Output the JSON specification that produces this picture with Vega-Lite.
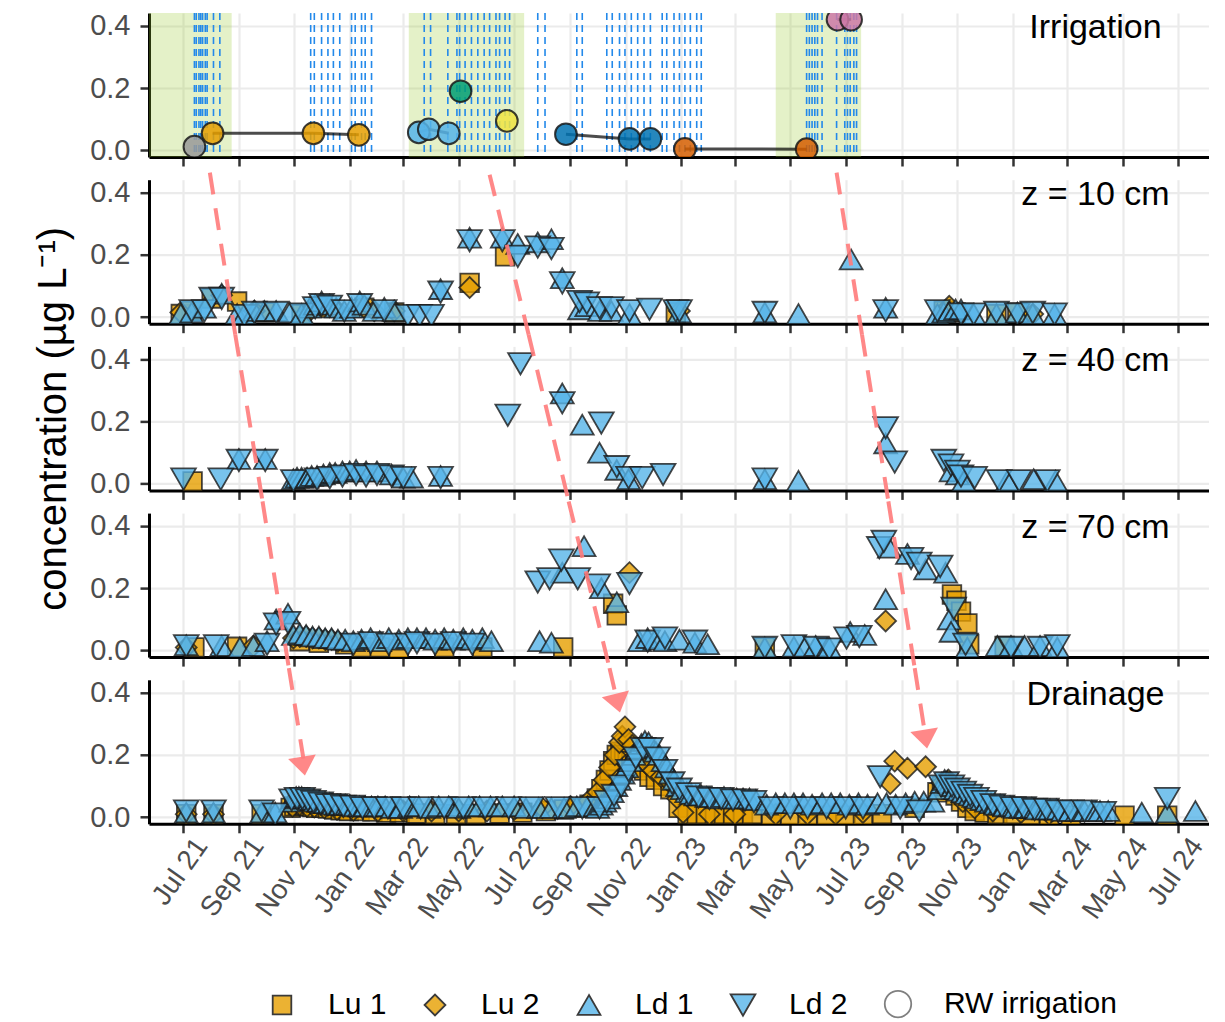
{
"$schema": "https://vega.github.io/schema/vega-lite/v6.json",
"padding": {"left": 33, "top": 10, "right": 0, "bottom": 0},
"bounds": "flush",
"spacing": 22.7,
"config": {
  "font": "Liberation Sans",
  "view": {"stroke": null},
  "axis": {"gridColor": "#ebebeb", "gridWidth": 2.2, "domainColor": "#000000", "domainWidth": 3, "tickColor": "#333333", "tickWidth": 2.5, "tickSize": 9, "labelColor": "#4d4d4d", "labelFontSize": 29, "labelPadding": 10, "labelOverlap": false, "labelFlush": false, "titleFontWeight": "normal", "titleColor": "#000000", "zindex": 1},
  "text": {"font": "Liberation Sans"}
},
"resolve": {"scale": {"x": "shared", "y": "shared", "color": "shared", "shape": "shared", "size": "shared"}, "legend": {"color": "shared", "shape": "shared"}},
"datasets": {
"green": [{"d1":"2021-05-01","d2":"2021-08-24"},{"d1":"2022-03-07","d2":"2022-07-12"},{"d1":"2023-04-15","d2":"2023-07-18"}],
"ev": [{"d":"2021-07-14"},{"d":"2021-07-16"},{"d":"2021-07-19"},{"d":"2021-07-21"},{"d":"2021-07-23"},{"d":"2021-07-26"},{"d":"2021-07-28"},{"d":"2021-08-04"},{"d":"2021-08-11"},
{"d":"2021-11-19"},{"d":"2021-11-23"},{"d":"2021-12-01"},{"d":"2021-12-08"},{"d":"2021-12-14"},{"d":"2021-12-21"},{"d":"2022-01-03"},{"d":"2022-01-07"},{"d":"2022-01-14"},{"d":"2022-01-18"},{"d":"2022-01-25"},
{"d":"2022-03-24"},{"d":"2022-03-31"},{"d":"2022-04-19"},{"d":"2022-04-29"},{"d":"2022-05-02"},{"d":"2022-05-08"},{"d":"2022-05-15"},{"d":"2022-05-22"},{"d":"2022-05-29"},{"d":"2022-06-04"},{"d":"2022-06-11"},{"d":"2022-06-15"},{"d":"2022-06-21"},{"d":"2022-06-26"},
{"d":"2022-07-27"},{"d":"2022-08-04"},{"d":"2022-09-08"},{"d":"2022-09-14"},{"d":"2022-10-11"},{"d":"2022-10-17"},{"d":"2022-10-25"},{"d":"2022-10-31"},{"d":"2022-11-07"},{"d":"2022-11-14"},{"d":"2022-11-21"},{"d":"2022-11-28"},{"d":"2022-12-11"},{"d":"2022-12-16"},{"d":"2022-12-24"},{"d":"2022-12-30"},{"d":"2023-01-05"},{"d":"2023-01-11"},{"d":"2023-01-18"},{"d":"2023-01-23"},
{"d":"2023-05-19"},{"d":"2023-05-22"},{"d":"2023-05-25"},{"d":"2023-05-28"},{"d":"2023-05-31"},{"d":"2023-06-05"},{"d":"2023-06-21"},{"d":"2023-06-30"},{"d":"2023-07-03"},{"d":"2023-07-06"},{"d":"2023-07-10"},{"d":"2023-07-13"}],
"irr": [{"d":"2021-07-14","v":0.012,"b":"B0"},
{"d":"2021-08-03","v":0.055,"b":"B1"},{"d":"2021-11-22","v":0.055,"b":"B1"},{"d":"2022-01-11","v":0.05,"b":"B1"},
{"d":"2022-03-18","v":0.058,"b":"B2"},{"d":"2022-03-29","v":0.068,"b":"B2"},{"d":"2022-04-20","v":0.055,"b":"B2"},
{"d":"2022-05-03","v":0.19,"b":"B3"},
{"d":"2022-06-23","v":0.095,"b":"B4"},
{"d":"2022-08-27","v":0.052,"b":"B5"},{"d":"2022-11-05","v":0.037,"b":"B5"},{"d":"2022-11-28","v":0.037,"b":"B5"},
{"d":"2023-01-05","v":0.005,"b":"B6"},{"d":"2023-05-19","v":0.004,"b":"B6"},
{"d":"2023-06-22","v":0.42,"b":"B7"},{"d":"2023-07-07","v":0.42,"b":"B7"}],
"arr": [
{"p":"10","d1":"2021-07-31","d2":"2021-08-28","v1":0.4636,"v2":-0.0563},
{"p":"40","d1":"2021-08-28","d2":"2021-09-27","v1":0.4785,"v2":-0.0563},
{"p":"70","d1":"2021-09-27","d2":"2021-10-26","v1":0.4785,"v2":-0.0563},
{"p":"D","d1":"2021-10-26","d2":"2021-11-11","v1":0.4785,"v2":0.188},
{"p":"10","d1":"2022-06-04","d2":"2022-07-17","v1":0.457,"v2":-0.0563},
{"p":"40","d1":"2022-07-17","d2":"2022-08-30","v1":0.4785,"v2":-0.0563},
{"p":"70","d1":"2022-08-30","d2":"2022-10-14","v1":0.4785,"v2":-0.0563},
{"p":"D","d1":"2022-10-14","d2":"2022-10-21","v1":0.4785,"v2":0.39},
{"p":"10","d1":"2023-06-21","d2":"2023-07-19","v1":0.4636,"v2":-0.0563},
{"p":"40","d1":"2023-07-19","d2":"2023-08-17","v1":0.4785,"v2":-0.0563},
{"p":"70","d1":"2023-08-17","d2":"2023-09-15","v1":0.4785,"v2":-0.0563},
{"p":"D","d1":"2023-09-15","d2":"2023-09-26","v1":0.4785,"v2":0.2746}],
"hd": [{"d":"2021-11-11","v":0.164,"a":351},{"d":"2022-10-23","v":0.366,"a":346},{"d":"2023-09-27","v":0.2506,"a":351}],
"obs": [
{"p":"10","d":"2021-06-29","s":"Lu 1","v":0.01},{"p":"10","d":"2021-07-11","s":"Lu 1","v":0.02},{"p":"10","d":"2021-08-02","s":"Lu 1","v":0.06},{"p":"10","d":"2021-08-30","s":"Lu 1","v":0.05},{"p":"10","d":"2021-09-29","s":"Lu 1","v":0.015},{"p":"10","d":"2021-11-09","s":"Lu 1","v":0.01},{"p":"10","d":"2021-12-01","s":"Lu 1","v":0.03},{"p":"10","d":"2022-01-17","s":"Lu 1","v":0.03},{"p":"10","d":"2022-02-19","s":"Lu 1","v":0.015},{"p":"10","d":"2022-05-13","s":"Lu 1","v":0.11},{"p":"10","d":"2022-06-21","s":"Lu 1","v":0.195},{"p":"10","d":"2022-12-26","s":"Lu 1","v":0.015},{"p":"10","d":"2023-10-17","s":"Lu 1","v":0.02},{"p":"10","d":"2023-10-30","s":"Lu 1","v":0.015},{"p":"10","d":"2023-12-14","s":"Lu 1","v":0.01},{"p":"10","d":"2024-01-06","s":"Lu 1","v":0.015},
{"p":"10","d":"2021-06-29","s":"Lu 2","v":0.015},{"p":"10","d":"2021-08-13","s":"Lu 2","v":0.07},{"p":"10","d":"2021-09-18","s":"Lu 2","v":0.02},{"p":"10","d":"2021-11-18","s":"Lu 2","v":0.02},{"p":"10","d":"2021-12-17","s":"Lu 2","v":0.025},{"p":"10","d":"2022-01-28","s":"Lu 2","v":0.02},{"p":"10","d":"2022-02-19","s":"Lu 2","v":0.02},{"p":"10","d":"2022-05-13","s":"Lu 2","v":0.095},{"p":"10","d":"2022-12-30","s":"Lu 2","v":0.02},{"p":"10","d":"2023-10-23","s":"Lu 2","v":0.035},{"p":"10","d":"2024-01-23","s":"Lu 2","v":0.01},
{"p":"10","d":"2021-06-29","s":"Ld 1","v":0.01},{"p":"10","d":"2021-07-11","s":"Ld 1","v":0.015},{"p":"10","d":"2021-07-25","s":"Ld 1","v":0.03},{"p":"10","d":"2021-08-13","s":"Ld 1","v":0.075},{"p":"10","d":"2021-08-30","s":"Ld 1","v":0.01},{"p":"10","d":"2021-09-07","s":"Ld 1","v":0.01},{"p":"10","d":"2021-09-18","s":"Ld 1","v":0.02},{"p":"10","d":"2021-09-29","s":"Ld 1","v":0.02},{"p":"10","d":"2021-10-12","s":"Ld 1","v":0.02},{"p":"10","d":"2021-10-27","s":"Ld 1","v":0.015},{"p":"10","d":"2021-11-09","s":"Ld 1","v":0.01},{"p":"10","d":"2021-11-18","s":"Ld 1","v":0.03},{"p":"10","d":"2021-11-24","s":"Ld 1","v":0.04},{"p":"10","d":"2021-12-01","s":"Ld 1","v":0.05},{"p":"10","d":"2021-12-10","s":"Ld 1","v":0.04},{"p":"10","d":"2021-12-17","s":"Ld 1","v":0.03},{"p":"10","d":"2021-12-26","s":"Ld 1","v":0.02},{"p":"10","d":"2022-01-03","s":"Ld 1","v":0.03},{"p":"10","d":"2022-01-12","s":"Ld 1","v":0.05},{"p":"10","d":"2022-01-17","s":"Ld 1","v":0.04},{"p":"10","d":"2022-01-28","s":"Ld 1","v":0.02},{"p":"10","d":"2022-02-08","s":"Ld 1","v":0.03},{"p":"10","d":"2022-02-19","s":"Ld 1","v":0.02},{"p":"10","d":"2022-04-11","s":"Ld 1","v":0.09},{"p":"10","d":"2022-05-13","s":"Ld 1","v":0.255},{"p":"10","d":"2022-06-18","s":"Ld 1","v":0.255},{"p":"10","d":"2022-07-05","s":"Ld 1","v":0.235},{"p":"10","d":"2022-07-27","s":"Ld 1","v":0.24},{"p":"10","d":"2022-08-11","s":"Ld 1","v":0.25},{"p":"10","d":"2022-08-23","s":"Ld 1","v":0.125},{"p":"10","d":"2022-09-11","s":"Ld 1","v":0.025},{"p":"10","d":"2022-09-19","s":"Ld 1","v":0.035},{"p":"10","d":"2022-10-03","s":"Ld 1","v":0.02},{"p":"10","d":"2022-10-16","s":"Ld 1","v":0.02},{"p":"10","d":"2022-11-05","s":"Ld 1","v":0.01},{"p":"10","d":"2022-12-30","s":"Ld 1","v":0.015},{"p":"10","d":"2023-04-03","s":"Ld 1","v":0.015},{"p":"10","d":"2023-05-10","s":"Ld 1","v":0.01},{"p":"10","d":"2023-07-07","s":"Ld 1","v":0.185},{"p":"10","d":"2023-08-14","s":"Ld 1","v":0.03},{"p":"10","d":"2023-10-10","s":"Ld 1","v":0.01},{"p":"10","d":"2023-10-17","s":"Ld 1","v":0.015},{"p":"10","d":"2023-10-23","s":"Ld 1","v":0.02},{"p":"10","d":"2023-10-30","s":"Ld 1","v":0.025},{"p":"10","d":"2023-11-05","s":"Ld 1","v":0.025},{"p":"10","d":"2023-11-19","s":"Ld 1","v":0.01},{"p":"10","d":"2023-12-14","s":"Ld 1","v":0.01},{"p":"10","d":"2024-01-06","s":"Ld 1","v":0.015},{"p":"10","d":"2024-01-23","s":"Ld 1","v":0.01},{"p":"10","d":"2024-02-16","s":"Ld 1","v":0.01},
{"p":"10","d":"2021-07-11","s":"Ld 2","v":0.02},{"p":"10","d":"2021-07-25","s":"Ld 2","v":0.02},{"p":"10","d":"2021-08-02","s":"Ld 2","v":0.06},{"p":"10","d":"2021-08-13","s":"Ld 2","v":0.06},{"p":"10","d":"2021-09-07","s":"Ld 2","v":0.005},{"p":"10","d":"2021-09-18","s":"Ld 2","v":0.015},{"p":"10","d":"2021-10-12","s":"Ld 2","v":0.015},{"p":"10","d":"2021-11-09","s":"Ld 2","v":0.01},{"p":"10","d":"2021-11-24","s":"Ld 2","v":0.03},{"p":"10","d":"2021-12-01","s":"Ld 2","v":0.04},{"p":"10","d":"2021-12-10","s":"Ld 2","v":0.035},{"p":"10","d":"2021-12-26","s":"Ld 2","v":0.02},{"p":"10","d":"2022-01-12","s":"Ld 2","v":0.04},{"p":"10","d":"2022-02-08","s":"Ld 2","v":0.02},{"p":"10","d":"2022-03-06","s":"Ld 2","v":0.005},{"p":"10","d":"2022-03-19","s":"Ld 2","v":0.005},{"p":"10","d":"2022-04-01","s":"Ld 2","v":0.005},{"p":"10","d":"2022-04-11","s":"Ld 2","v":0.08},{"p":"10","d":"2022-05-13","s":"Ld 2","v":0.245},{"p":"10","d":"2022-06-18","s":"Ld 2","v":0.245},{"p":"10","d":"2022-07-05","s":"Ld 2","v":0.195},{"p":"10","d":"2022-07-27","s":"Ld 2","v":0.225},{"p":"10","d":"2022-08-11","s":"Ld 2","v":0.22},{"p":"10","d":"2022-08-23","s":"Ld 2","v":0.11},{"p":"10","d":"2022-09-11","s":"Ld 2","v":0.05},{"p":"10","d":"2022-09-19","s":"Ld 2","v":0.045},{"p":"10","d":"2022-10-03","s":"Ld 2","v":0.03},{"p":"10","d":"2022-10-16","s":"Ld 2","v":0.03},{"p":"10","d":"2022-11-05","s":"Ld 2","v":0.02},{"p":"10","d":"2022-11-27","s":"Ld 2","v":0.025},{"p":"10","d":"2022-12-26","s":"Ld 2","v":0.02},{"p":"10","d":"2022-12-30","s":"Ld 2","v":0.02},{"p":"10","d":"2023-04-03","s":"Ld 2","v":0.015},{"p":"10","d":"2023-08-14","s":"Ld 2","v":0.02},{"p":"10","d":"2023-10-10","s":"Ld 2","v":0.02},{"p":"10","d":"2023-11-05","s":"Ld 2","v":0.01},{"p":"10","d":"2023-11-19","s":"Ld 2","v":0.01},{"p":"10","d":"2023-12-14","s":"Ld 2","v":0.015},{"p":"10","d":"2024-01-06","s":"Ld 2","v":0.01},{"p":"10","d":"2024-01-23","s":"Ld 2","v":0.015},{"p":"10","d":"2024-02-16","s":"Ld 2","v":0.01},

{"p":"40","d":"2021-07-12","s":"Lu 1","v":0.008},
{"p":"40","d":"2021-09-01","s":"Ld 1","v":0.08},{"p":"40","d":"2021-09-30","s":"Ld 1","v":0.08},{"p":"40","d":"2021-10-31","s":"Ld 1","v":0.015},{"p":"40","d":"2021-11-04","s":"Ld 1","v":0.02},{"p":"40","d":"2021-11-09","s":"Ld 1","v":0.02},{"p":"40","d":"2021-11-15","s":"Ld 1","v":0.02},{"p":"40","d":"2021-11-20","s":"Ld 1","v":0.025},{"p":"40","d":"2021-11-26","s":"Ld 1","v":0.025},{"p":"40","d":"2021-12-03","s":"Ld 1","v":0.03},{"p":"40","d":"2021-12-10","s":"Ld 1","v":0.035},{"p":"40","d":"2021-12-16","s":"Ld 1","v":0.035},{"p":"40","d":"2021-12-24","s":"Ld 1","v":0.04},{"p":"40","d":"2022-01-01","s":"Ld 1","v":0.04},{"p":"40","d":"2022-01-08","s":"Ld 1","v":0.045},{"p":"40","d":"2022-01-19","s":"Ld 1","v":0.04},{"p":"40","d":"2022-01-31","s":"Ld 1","v":0.04},{"p":"40","d":"2022-02-16","s":"Ld 1","v":0.03},{"p":"40","d":"2022-03-01","s":"Ld 1","v":0.02},{"p":"40","d":"2022-03-10","s":"Ld 1","v":0.02},{"p":"40","d":"2022-04-11","s":"Ld 1","v":0.025},{"p":"40","d":"2022-08-23","s":"Ld 1","v":0.29},{"p":"40","d":"2022-09-14","s":"Ld 1","v":0.19},{"p":"40","d":"2022-10-03","s":"Ld 1","v":0.1},{"p":"40","d":"2022-10-22","s":"Ld 1","v":0.045},{"p":"40","d":"2022-11-04","s":"Ld 1","v":0.015},{"p":"40","d":"2023-04-03","s":"Ld 1","v":0.015},{"p":"40","d":"2023-05-10","s":"Ld 1","v":0.01},{"p":"40","d":"2023-08-14","s":"Ld 1","v":0.13},{"p":"40","d":"2023-10-25","s":"Ld 1","v":0.04},{"p":"40","d":"2023-11-01","s":"Ld 1","v":0.03},{"p":"40","d":"2023-11-08","s":"Ld 1","v":0.01},{"p":"40","d":"2023-12-26","s":"Ld 1","v":0.01},{"p":"40","d":"2024-01-24","s":"Ld 1","v":0.015},{"p":"40","d":"2024-02-17","s":"Ld 1","v":0.01},
{"p":"40","d":"2021-07-02","s":"Ld 2","v":0.015},{"p":"40","d":"2021-08-12","s":"Ld 2","v":0.015},{"p":"40","d":"2021-09-01","s":"Ld 2","v":0.075},{"p":"40","d":"2021-09-30","s":"Ld 2","v":0.075},{"p":"40","d":"2021-10-31","s":"Ld 2","v":0.01},{"p":"40","d":"2021-11-26","s":"Ld 2","v":0.015},{"p":"40","d":"2021-12-10","s":"Ld 2","v":0.02},{"p":"40","d":"2021-12-24","s":"Ld 2","v":0.025},{"p":"40","d":"2022-01-08","s":"Ld 2","v":0.03},{"p":"40","d":"2022-01-19","s":"Ld 2","v":0.025},{"p":"40","d":"2022-01-31","s":"Ld 2","v":0.03},{"p":"40","d":"2022-02-16","s":"Ld 2","v":0.025},{"p":"40","d":"2022-03-01","s":"Ld 2","v":0.02},{"p":"40","d":"2022-04-11","s":"Ld 2","v":0.02},{"p":"40","d":"2022-06-24","s":"Ld 2","v":0.22},{"p":"40","d":"2022-07-08","s":"Ld 2","v":0.385},{"p":"40","d":"2022-08-23","s":"Ld 2","v":0.26},{"p":"40","d":"2022-10-05","s":"Ld 2","v":0.195},{"p":"40","d":"2022-10-22","s":"Ld 2","v":0.055},{"p":"40","d":"2022-11-04","s":"Ld 2","v":0.02},{"p":"40","d":"2022-11-19","s":"Ld 2","v":0.02},{"p":"40","d":"2022-12-12","s":"Ld 2","v":0.03},{"p":"40","d":"2023-04-03","s":"Ld 2","v":0.015},{"p":"40","d":"2023-08-14","s":"Ld 2","v":0.18},{"p":"40","d":"2023-08-24","s":"Ld 2","v":0.07},{"p":"40","d":"2023-10-17","s":"Ld 2","v":0.075},{"p":"40","d":"2023-10-25","s":"Ld 2","v":0.06},{"p":"40","d":"2023-11-01","s":"Ld 2","v":0.04},{"p":"40","d":"2023-11-05","s":"Ld 2","v":0.025},{"p":"40","d":"2023-11-20","s":"Ld 2","v":0.02},{"p":"40","d":"2023-12-17","s":"Ld 2","v":0.01},{"p":"40","d":"2024-01-08","s":"Ld 2","v":0.01},{"p":"40","d":"2024-02-08","s":"Ld 2","v":0.01},

{"p":"70","d":"2021-07-14","s":"Lu 1","v":0.01},{"p":"70","d":"2021-08-30","s":"Lu 1","v":0.012},{"p":"70","d":"2021-11-07","s":"Lu 1","v":0.03},{"p":"70","d":"2021-11-28","s":"Lu 1","v":0.025},{"p":"70","d":"2021-12-27","s":"Lu 1","v":0.02},{"p":"70","d":"2022-01-14","s":"Lu 1","v":0.01},{"p":"70","d":"2022-02-03","s":"Lu 1","v":0.01},{"p":"70","d":"2022-02-24","s":"Lu 1","v":0.005},{"p":"70","d":"2022-04-15","s":"Lu 1","v":0.01},{"p":"70","d":"2022-05-27","s":"Lu 1","v":0.01},{"p":"70","d":"2022-08-24","s":"Lu 1","v":0.01},{"p":"70","d":"2022-10-18","s":"Lu 1","v":0.15},{"p":"70","d":"2022-10-22","s":"Lu 1","v":0.113},{"p":"70","d":"2023-04-03","s":"Lu 1","v":0.01},{"p":"70","d":"2023-10-26","s":"Lu 1","v":0.18},{"p":"70","d":"2023-10-31","s":"Lu 1","v":0.16},{"p":"70","d":"2023-11-05","s":"Lu 1","v":0.125},{"p":"70","d":"2023-11-12","s":"Lu 1","v":0.087},{"p":"70","d":"2023-11-14","s":"Lu 1","v":0.02},{"p":"70","d":"2023-12-23","s":"Lu 1","v":0.015},
{"p":"70","d":"2021-07-05","s":"Lu 2","v":0.01},{"p":"70","d":"2021-09-17","s":"Lu 2","v":0.015},{"p":"70","d":"2021-10-31","s":"Lu 2","v":0.04},{"p":"70","d":"2021-11-07","s":"Lu 2","v":0.045},{"p":"70","d":"2021-11-14","s":"Lu 2","v":0.045},{"p":"70","d":"2021-11-21","s":"Lu 2","v":0.04},{"p":"70","d":"2021-11-28","s":"Lu 2","v":0.04},{"p":"70","d":"2021-12-05","s":"Lu 2","v":0.035},{"p":"70","d":"2021-12-12","s":"Lu 2","v":0.035},{"p":"70","d":"2021-12-19","s":"Lu 2","v":0.03},{"p":"70","d":"2022-11-05","s":"Lu 2","v":0.25},{"p":"70","d":"2023-08-14","s":"Lu 2","v":0.095},
{"p":"70","d":"2021-07-05","s":"Ld 1","v":0.017},{"p":"70","d":"2021-08-13","s":"Ld 1","v":0.015},{"p":"70","d":"2021-09-02","s":"Ld 1","v":0.01},{"p":"70","d":"2021-09-17","s":"Ld 1","v":0.015},{"p":"70","d":"2021-10-02","s":"Ld 1","v":0.03},{"p":"70","d":"2021-10-12","s":"Ld 1","v":0.1},{"p":"70","d":"2021-10-25","s":"Ld 1","v":0.118},{"p":"70","d":"2021-10-31","s":"Ld 1","v":0.05},{"p":"70","d":"2021-11-07","s":"Ld 1","v":0.055},{"p":"70","d":"2021-11-14","s":"Ld 1","v":0.05},{"p":"70","d":"2021-11-21","s":"Ld 1","v":0.045},{"p":"70","d":"2021-11-28","s":"Ld 1","v":0.045},{"p":"70","d":"2021-12-05","s":"Ld 1","v":0.04},{"p":"70","d":"2021-12-12","s":"Ld 1","v":0.04},{"p":"70","d":"2021-12-19","s":"Ld 1","v":0.035},{"p":"70","d":"2021-12-27","s":"Ld 1","v":0.035},{"p":"70","d":"2022-01-05","s":"Ld 1","v":0.03},{"p":"70","d":"2022-01-14","s":"Ld 1","v":0.035},{"p":"70","d":"2022-01-24","s":"Ld 1","v":0.04},{"p":"70","d":"2022-02-03","s":"Ld 1","v":0.03},{"p":"70","d":"2022-02-13","s":"Ld 1","v":0.04},{"p":"70","d":"2022-02-24","s":"Ld 1","v":0.035},{"p":"70","d":"2022-03-06","s":"Ld 1","v":0.04},{"p":"70","d":"2022-03-16","s":"Ld 1","v":0.04},{"p":"70","d":"2022-03-26","s":"Ld 1","v":0.04},{"p":"70","d":"2022-04-05","s":"Ld 1","v":0.035},{"p":"70","d":"2022-04-15","s":"Ld 1","v":0.04},{"p":"70","d":"2022-04-25","s":"Ld 1","v":0.035},{"p":"70","d":"2022-05-06","s":"Ld 1","v":0.04},{"p":"70","d":"2022-05-16","s":"Ld 1","v":0.035},{"p":"70","d":"2022-05-27","s":"Ld 1","v":0.04},{"p":"70","d":"2022-06-06","s":"Ld 1","v":0.03},{"p":"70","d":"2022-07-29","s":"Ld 1","v":0.03},{"p":"70","d":"2022-08-11","s":"Ld 1","v":0.025},{"p":"70","d":"2022-08-23","s":"Ld 1","v":0.25},{"p":"70","d":"2022-09-16","s":"Ld 1","v":0.335},{"p":"70","d":"2022-10-05","s":"Ld 1","v":0.2},{"p":"70","d":"2022-10-22","s":"Ld 1","v":0.155},{"p":"70","d":"2022-11-16","s":"Ld 1","v":0.03},{"p":"70","d":"2022-11-25","s":"Ld 1","v":0.04},{"p":"70","d":"2022-12-03","s":"Ld 1","v":0.035},{"p":"70","d":"2022-12-14","s":"Ld 1","v":0.03},{"p":"70","d":"2022-12-30","s":"Ld 1","v":0.035},{"p":"70","d":"2023-01-16","s":"Ld 1","v":0.025},{"p":"70","d":"2023-01-30","s":"Ld 1","v":0.02},{"p":"70","d":"2023-04-03","s":"Ld 1","v":0.01},{"p":"70","d":"2023-05-05","s":"Ld 1","v":0.012},{"p":"70","d":"2023-05-17","s":"Ld 1","v":0.012},{"p":"70","d":"2023-05-29","s":"Ld 1","v":0.015},{"p":"70","d":"2023-06-13","s":"Ld 1","v":0.01},{"p":"70","d":"2023-07-06","s":"Ld 1","v":0.06},{"p":"70","d":"2023-07-22","s":"Ld 1","v":0.05},{"p":"70","d":"2023-08-14","s":"Ld 1","v":0.165},{"p":"70","d":"2023-08-18","s":"Ld 1","v":0.33},{"p":"70","d":"2023-09-07","s":"Ld 1","v":0.31},{"p":"70","d":"2023-09-27","s":"Ld 1","v":0.26},{"p":"70","d":"2023-10-19","s":"Ld 1","v":0.25},{"p":"70","d":"2023-10-23","s":"Ld 1","v":0.1},{"p":"70","d":"2023-10-25","s":"Ld 1","v":0.06},{"p":"70","d":"2023-11-12","s":"Ld 1","v":0.01},{"p":"70","d":"2023-12-15","s":"Ld 1","v":0.015},{"p":"70","d":"2023-12-30","s":"Ld 1","v":0.015},{"p":"70","d":"2024-01-14","s":"Ld 1","v":0.015},{"p":"70","d":"2024-01-31","s":"Ld 1","v":0.015},{"p":"70","d":"2024-02-19","s":"Ld 1","v":0.01},
{"p":"70","d":"2021-07-05","s":"Ld 2","v":0.015},{"p":"70","d":"2021-08-07","s":"Ld 2","v":0.015},{"p":"70","d":"2021-10-02","s":"Ld 2","v":0.02},{"p":"70","d":"2021-10-12","s":"Ld 2","v":0.085},{"p":"70","d":"2021-10-25","s":"Ld 2","v":0.09},{"p":"70","d":"2022-01-05","s":"Ld 2","v":0.02},{"p":"70","d":"2022-01-24","s":"Ld 2","v":0.025},{"p":"70","d":"2022-02-13","s":"Ld 2","v":0.02},{"p":"70","d":"2022-03-06","s":"Ld 2","v":0.02},{"p":"70","d":"2022-03-16","s":"Ld 2","v":0.025},{"p":"70","d":"2022-04-05","s":"Ld 2","v":0.02},{"p":"70","d":"2022-04-25","s":"Ld 2","v":0.025},{"p":"70","d":"2022-05-16","s":"Ld 2","v":0.02},{"p":"70","d":"2022-07-27","s":"Ld 2","v":0.22},{"p":"70","d":"2022-08-09","s":"Ld 2","v":0.23},{"p":"70","d":"2022-08-22","s":"Ld 2","v":0.29},{"p":"70","d":"2022-09-09","s":"Ld 2","v":0.23},{"p":"70","d":"2022-10-01","s":"Ld 2","v":0.21},{"p":"70","d":"2022-11-05","s":"Ld 2","v":0.215},{"p":"70","d":"2022-11-25","s":"Ld 2","v":0.03},{"p":"70","d":"2022-12-14","s":"Ld 2","v":0.04},{"p":"70","d":"2023-01-16","s":"Ld 2","v":0.03},{"p":"70","d":"2023-04-03","s":"Ld 2","v":0.01},{"p":"70","d":"2023-05-05","s":"Ld 2","v":0.015},{"p":"70","d":"2023-05-29","s":"Ld 2","v":0.01},{"p":"70","d":"2023-06-13","s":"Ld 2","v":0.005},{"p":"70","d":"2023-07-02","s":"Ld 2","v":0.04},{"p":"70","d":"2023-07-16","s":"Ld 2","v":0.045},{"p":"70","d":"2023-08-07","s":"Ld 2","v":0.33},{"p":"70","d":"2023-08-12","s":"Ld 2","v":0.35},{"p":"70","d":"2023-09-11","s":"Ld 2","v":0.295},{"p":"70","d":"2023-09-20","s":"Ld 2","v":0.28},{"p":"70","d":"2023-10-13","s":"Ld 2","v":0.27},{"p":"70","d":"2023-10-28","s":"Ld 2","v":0.135},{"p":"70","d":"2023-11-10","s":"Ld 2","v":0.02},{"p":"70","d":"2023-12-30","s":"Ld 2","v":0.01},{"p":"70","d":"2024-01-31","s":"Ld 2","v":0.01},{"p":"70","d":"2024-02-19","s":"Ld 2","v":0.015},

{"p":"D","d":"2021-07-05","s":"Lu 1","v":0.01},{"p":"D","d":"2021-08-04","s":"Lu 1","v":0.01},{"p":"D","d":"2021-09-26","s":"Lu 1","v":0.01},{"p":"D","d":"2021-10-28","s":"Lu 1","v":0.03},{"p":"D","d":"2021-11-01","s":"Lu 1","v":0.035},{"p":"D","d":"2021-11-05","s":"Lu 1","v":0.04},{"p":"D","d":"2021-11-09","s":"Lu 1","v":0.04},{"p":"D","d":"2021-11-13","s":"Lu 1","v":0.038},{"p":"D","d":"2021-11-17","s":"Lu 1","v":0.035},{"p":"D","d":"2021-11-21","s":"Lu 1","v":0.033},{"p":"D","d":"2021-11-25","s":"Lu 1","v":0.03},{"p":"D","d":"2021-12-01","s":"Lu 1","v":0.03},{"p":"D","d":"2021-12-08","s":"Lu 1","v":0.028},{"p":"D","d":"2021-12-15","s":"Lu 1","v":0.025},{"p":"D","d":"2021-12-22","s":"Lu 1","v":0.022},{"p":"D","d":"2021-12-31","s":"Lu 1","v":0.02},{"p":"D","d":"2022-01-12","s":"Lu 1","v":0.02},{"p":"D","d":"2022-01-26","s":"Lu 1","v":0.018},{"p":"D","d":"2022-02-10","s":"Lu 1","v":0.015},{"p":"D","d":"2022-02-25","s":"Lu 1","v":0.015},{"p":"D","d":"2022-03-15","s":"Lu 1","v":0.012},{"p":"D","d":"2022-04-05","s":"Lu 1","v":0.01},{"p":"D","d":"2022-04-28","s":"Lu 1","v":0.01},{"p":"D","d":"2022-05-20","s":"Lu 1","v":0.01},{"p":"D","d":"2022-06-15","s":"Lu 1","v":0.012},{"p":"D","d":"2022-07-10","s":"Lu 1","v":0.015},{"p":"D","d":"2022-08-05","s":"Lu 1","v":0.02},{"p":"D","d":"2022-08-25","s":"Lu 1","v":0.025},{"p":"D","d":"2022-09-10","s":"Lu 1","v":0.03},{"p":"D","d":"2022-09-22","s":"Lu 1","v":0.04},{"p":"D","d":"2022-09-30","s":"Lu 1","v":0.06},{"p":"D","d":"2022-10-05","s":"Lu 1","v":0.09},{"p":"D","d":"2022-10-10","s":"Lu 1","v":0.12},{"p":"D","d":"2022-10-14","s":"Lu 1","v":0.15},{"p":"D","d":"2022-10-18","s":"Lu 1","v":0.18},{"p":"D","d":"2022-10-22","s":"Lu 1","v":0.2},{"p":"D","d":"2022-10-26","s":"Lu 1","v":0.21},{"p":"D","d":"2022-10-30","s":"Lu 1","v":0.2},{"p":"D","d":"2022-11-03","s":"Lu 1","v":0.19},{"p":"D","d":"2022-11-07","s":"Lu 1","v":0.18},{"p":"D","d":"2022-11-11","s":"Lu 1","v":0.17},{"p":"D","d":"2022-11-16","s":"Lu 1","v":0.16},{"p":"D","d":"2022-11-21","s":"Lu 1","v":0.15},{"p":"D","d":"2022-11-27","s":"Lu 1","v":0.13},{"p":"D","d":"2022-12-04","s":"Lu 1","v":0.12},{"p":"D","d":"2022-12-12","s":"Lu 1","v":0.1},{"p":"D","d":"2022-12-20","s":"Lu 1","v":0.09},{"p":"D","d":"2022-12-29","s":"Lu 1","v":0.03},{"p":"D","d":"2023-01-08","s":"Lu 1","v":0.01},{"p":"D","d":"2023-01-18","s":"Lu 1","v":0.01},{"p":"D","d":"2023-01-28","s":"Lu 1","v":0.01},{"p":"D","d":"2023-02-07","s":"Lu 1","v":0.01},{"p":"D","d":"2023-02-17","s":"Lu 1","v":0.01},{"p":"D","d":"2023-02-27","s":"Lu 1","v":0.01},{"p":"D","d":"2023-03-10","s":"Lu 1","v":0.01},{"p":"D","d":"2023-03-20","s":"Lu 1","v":0.01},{"p":"D","d":"2023-04-10","s":"Lu 1","v":0.005},{"p":"D","d":"2023-05-01","s":"Lu 1","v":0.005},{"p":"D","d":"2023-05-20","s":"Lu 1","v":0.005},{"p":"D","d":"2023-06-10","s":"Lu 1","v":0.005},{"p":"D","d":"2023-07-01","s":"Lu 1","v":0.005},{"p":"D","d":"2023-07-20","s":"Lu 1","v":0.005},{"p":"D","d":"2023-08-10","s":"Lu 1","v":0.01},{"p":"D","d":"2023-09-15","s":"Lu 1","v":0.03},{"p":"D","d":"2023-10-10","s":"Lu 1","v":0.08},{"p":"D","d":"2023-10-15","s":"Lu 1","v":0.1},{"p":"D","d":"2023-10-20","s":"Lu 1","v":0.1},{"p":"D","d":"2023-10-25","s":"Lu 1","v":0.09},{"p":"D","d":"2023-10-30","s":"Lu 1","v":0.07},{"p":"D","d":"2023-11-05","s":"Lu 1","v":0.05},{"p":"D","d":"2023-11-12","s":"Lu 1","v":0.03},{"p":"D","d":"2023-11-20","s":"Lu 1","v":0.02},{"p":"D","d":"2023-12-01","s":"Lu 1","v":0.015},{"p":"D","d":"2023-12-15","s":"Lu 1","v":0.01},{"p":"D","d":"2024-01-01","s":"Lu 1","v":0.01},{"p":"D","d":"2024-01-20","s":"Lu 1","v":0.008},{"p":"D","d":"2024-02-10","s":"Lu 1","v":0.005},{"p":"D","d":"2024-03-05","s":"Lu 1","v":0.005},{"p":"D","d":"2024-05-03","s":"Lu 1","v":0.005},{"p":"D","d":"2024-06-19","s":"Lu 1","v":0.005},
{"p":"D","d":"2021-07-05","s":"Lu 2","v":0.01},{"p":"D","d":"2021-08-04","s":"Lu 2","v":0.01},{"p":"D","d":"2021-10-30","s":"Lu 2","v":0.035},{"p":"D","d":"2021-11-07","s":"Lu 2","v":0.04},{"p":"D","d":"2021-11-15","s":"Lu 2","v":0.035},{"p":"D","d":"2021-11-23","s":"Lu 2","v":0.033},{"p":"D","d":"2021-12-04","s":"Lu 2","v":0.03},{"p":"D","d":"2021-12-18","s":"Lu 2","v":0.025},{"p":"D","d":"2022-01-05","s":"Lu 2","v":0.022},{"p":"D","d":"2022-02-01","s":"Lu 2","v":0.02},{"p":"D","d":"2022-03-01","s":"Lu 2","v":0.02},{"p":"D","d":"2022-04-01","s":"Lu 2","v":0.02},{"p":"D","d":"2022-05-01","s":"Lu 2","v":0.02},{"p":"D","d":"2022-06-01","s":"Lu 2","v":0.02},{"p":"D","d":"2022-07-01","s":"Lu 2","v":0.025},{"p":"D","d":"2022-08-01","s":"Lu 2","v":0.03},{"p":"D","d":"2022-09-01","s":"Lu 2","v":0.035},{"p":"D","d":"2022-09-20","s":"Lu 2","v":0.05},{"p":"D","d":"2022-10-01","s":"Lu 2","v":0.08},{"p":"D","d":"2022-10-08","s":"Lu 2","v":0.12},{"p":"D","d":"2022-10-14","s":"Lu 2","v":0.16},{"p":"D","d":"2022-10-20","s":"Lu 2","v":0.2},{"p":"D","d":"2022-10-25","s":"Lu 2","v":0.24},{"p":"D","d":"2022-10-28","s":"Lu 2","v":0.26},{"p":"D","d":"2022-10-31","s":"Lu 2","v":0.29},{"p":"D","d":"2022-11-04","s":"Lu 2","v":0.25},{"p":"D","d":"2022-11-08","s":"Lu 2","v":0.23},{"p":"D","d":"2022-11-13","s":"Lu 2","v":0.21},{"p":"D","d":"2022-11-18","s":"Lu 2","v":0.19},{"p":"D","d":"2022-11-24","s":"Lu 2","v":0.17},{"p":"D","d":"2022-12-01","s":"Lu 2","v":0.15},{"p":"D","d":"2022-12-10","s":"Lu 2","v":0.13},{"p":"D","d":"2022-12-20","s":"Lu 2","v":0.11},{"p":"D","d":"2022-12-28","s":"Lu 2","v":0.06},{"p":"D","d":"2023-01-03","s":"Lu 2","v":0.015},{"p":"D","d":"2023-02-01","s":"Lu 2","v":0.01},{"p":"D","d":"2023-03-01","s":"Lu 2","v":0.01},{"p":"D","d":"2023-04-15","s":"Lu 2","v":0.01},{"p":"D","d":"2023-05-20","s":"Lu 2","v":0.01},{"p":"D","d":"2023-06-20","s":"Lu 2","v":0.01},{"p":"D","d":"2023-07-20","s":"Lu 2","v":0.015},{"p":"D","d":"2023-08-19","s":"Lu 2","v":0.108},{"p":"D","d":"2023-08-24","s":"Lu 2","v":0.18},{"p":"D","d":"2023-09-07","s":"Lu 2","v":0.157},{"p":"D","d":"2023-09-27","s":"Lu 2","v":0.162},{"p":"D","d":"2023-10-15","s":"Lu 2","v":0.11},{"p":"D","d":"2023-10-22","s":"Lu 2","v":0.12},{"p":"D","d":"2023-10-29","s":"Lu 2","v":0.09},{"p":"D","d":"2023-11-07","s":"Lu 2","v":0.05},{"p":"D","d":"2023-11-20","s":"Lu 2","v":0.03},{"p":"D","d":"2023-12-10","s":"Lu 2","v":0.02},{"p":"D","d":"2024-01-10","s":"Lu 2","v":0.015},{"p":"D","d":"2024-02-10","s":"Lu 2","v":0.01},
{"p":"D","d":"2021-07-05","s":"Ld 1","v":0.015},{"p":"D","d":"2021-08-04","s":"Ld 1","v":0.015},{"p":"D","d":"2021-09-26","s":"Ld 1","v":0.015},{"p":"D","d":"2021-10-11","s":"Ld 1","v":0.015},{"p":"D","d":"2021-10-28","s":"Ld 1","v":0.05},{"p":"D","d":"2021-10-31","s":"Ld 1","v":0.06},{"p":"D","d":"2021-11-03","s":"Ld 1","v":0.065},{"p":"D","d":"2021-11-06","s":"Ld 1","v":0.065},{"p":"D","d":"2021-11-09","s":"Ld 1","v":0.065},{"p":"D","d":"2021-11-12","s":"Ld 1","v":0.06},{"p":"D","d":"2021-11-15","s":"Ld 1","v":0.06},{"p":"D","d":"2021-11-18","s":"Ld 1","v":0.055},{"p":"D","d":"2021-11-21","s":"Ld 1","v":0.055},{"p":"D","d":"2021-11-24","s":"Ld 1","v":0.05},{"p":"D","d":"2021-11-28","s":"Ld 1","v":0.05},{"p":"D","d":"2021-12-02","s":"Ld 1","v":0.045},{"p":"D","d":"2021-12-06","s":"Ld 1","v":0.045},{"p":"D","d":"2021-12-10","s":"Ld 1","v":0.045},{"p":"D","d":"2021-12-14","s":"Ld 1","v":0.04},{"p":"D","d":"2021-12-18","s":"Ld 1","v":0.04},{"p":"D","d":"2021-12-22","s":"Ld 1","v":0.04},{"p":"D","d":"2021-12-27","s":"Ld 1","v":0.04},{"p":"D","d":"2022-01-01","s":"Ld 1","v":0.04},{"p":"D","d":"2022-01-06","s":"Ld 1","v":0.035},{"p":"D","d":"2022-01-12","s":"Ld 1","v":0.035},{"p":"D","d":"2022-01-18","s":"Ld 1","v":0.035},{"p":"D","d":"2022-01-25","s":"Ld 1","v":0.035},{"p":"D","d":"2022-02-01","s":"Ld 1","v":0.035},{"p":"D","d":"2022-02-09","s":"Ld 1","v":0.035},{"p":"D","d":"2022-02-17","s":"Ld 1","v":0.03},{"p":"D","d":"2022-02-26","s":"Ld 1","v":0.03},{"p":"D","d":"2022-03-08","s":"Ld 1","v":0.035},{"p":"D","d":"2022-03-18","s":"Ld 1","v":0.035},{"p":"D","d":"2022-03-29","s":"Ld 1","v":0.03},{"p":"D","d":"2022-04-09","s":"Ld 1","v":0.035},{"p":"D","d":"2022-04-20","s":"Ld 1","v":0.035},{"p":"D","d":"2022-05-01","s":"Ld 1","v":0.03},{"p":"D","d":"2022-05-12","s":"Ld 1","v":0.035},{"p":"D","d":"2022-05-24","s":"Ld 1","v":0.035},{"p":"D","d":"2022-06-05","s":"Ld 1","v":0.035},{"p":"D","d":"2022-06-18","s":"Ld 1","v":0.035},{"p":"D","d":"2022-07-01","s":"Ld 1","v":0.035},{"p":"D","d":"2022-07-14","s":"Ld 1","v":0.03},{"p":"D","d":"2022-07-28","s":"Ld 1","v":0.03},{"p":"D","d":"2022-08-11","s":"Ld 1","v":0.03},{"p":"D","d":"2022-08-25","s":"Ld 1","v":0.03},{"p":"D","d":"2022-09-08","s":"Ld 1","v":0.035},{"p":"D","d":"2022-09-20","s":"Ld 1","v":0.035},{"p":"D","d":"2022-10-01","s":"Ld 1","v":0.03},{"p":"D","d":"2022-10-05","s":"Ld 1","v":0.04},{"p":"D","d":"2022-10-09","s":"Ld 1","v":0.05},{"p":"D","d":"2022-10-13","s":"Ld 1","v":0.06},{"p":"D","d":"2022-10-17","s":"Ld 1","v":0.08},{"p":"D","d":"2022-10-21","s":"Ld 1","v":0.1},{"p":"D","d":"2022-10-25","s":"Ld 1","v":0.12},{"p":"D","d":"2022-10-29","s":"Ld 1","v":0.14},{"p":"D","d":"2022-11-02","s":"Ld 1","v":0.16},{"p":"D","d":"2022-11-06","s":"Ld 1","v":0.18},{"p":"D","d":"2022-11-10","s":"Ld 1","v":0.2},{"p":"D","d":"2022-11-14","s":"Ld 1","v":0.22},{"p":"D","d":"2022-11-18","s":"Ld 1","v":0.235},{"p":"D","d":"2022-11-22","s":"Ld 1","v":0.245},{"p":"D","d":"2022-11-26","s":"Ld 1","v":0.24},{"p":"D","d":"2022-11-30","s":"Ld 1","v":0.225},{"p":"D","d":"2022-12-04","s":"Ld 1","v":0.21},{"p":"D","d":"2022-12-08","s":"Ld 1","v":0.2},{"p":"D","d":"2022-12-12","s":"Ld 1","v":0.18},{"p":"D","d":"2022-12-16","s":"Ld 1","v":0.16},{"p":"D","d":"2022-12-20","s":"Ld 1","v":0.14},{"p":"D","d":"2022-12-24","s":"Ld 1","v":0.12},{"p":"D","d":"2022-12-28","s":"Ld 1","v":0.1},{"p":"D","d":"2023-01-02","s":"Ld 1","v":0.09},{"p":"D","d":"2023-01-07","s":"Ld 1","v":0.08},{"p":"D","d":"2023-01-12","s":"Ld 1","v":0.075},{"p":"D","d":"2023-01-17","s":"Ld 1","v":0.07},{"p":"D","d":"2023-01-23","s":"Ld 1","v":0.07},{"p":"D","d":"2023-01-29","s":"Ld 1","v":0.065},{"p":"D","d":"2023-02-04","s":"Ld 1","v":0.065},{"p":"D","d":"2023-02-10","s":"Ld 1","v":0.06},{"p":"D","d":"2023-02-17","s":"Ld 1","v":0.065},{"p":"D","d":"2023-02-24","s":"Ld 1","v":0.06},{"p":"D","d":"2023-03-03","s":"Ld 1","v":0.06},{"p":"D","d":"2023-03-10","s":"Ld 1","v":0.06},{"p":"D","d":"2023-03-17","s":"Ld 1","v":0.06},{"p":"D","d":"2023-03-24","s":"Ld 1","v":0.055},{"p":"D","d":"2023-04-05","s":"Ld 1","v":0.04},{"p":"D","d":"2023-04-15","s":"Ld 1","v":0.045},{"p":"D","d":"2023-04-25","s":"Ld 1","v":0.045},{"p":"D","d":"2023-05-05","s":"Ld 1","v":0.045},{"p":"D","d":"2023-05-15","s":"Ld 1","v":0.045},{"p":"D","d":"2023-05-25","s":"Ld 1","v":0.04},{"p":"D","d":"2023-06-05","s":"Ld 1","v":0.045},{"p":"D","d":"2023-06-15","s":"Ld 1","v":0.045},{"p":"D","d":"2023-06-25","s":"Ld 1","v":0.045},{"p":"D","d":"2023-07-05","s":"Ld 1","v":0.04},{"p":"D","d":"2023-07-15","s":"Ld 1","v":0.045},{"p":"D","d":"2023-07-25","s":"Ld 1","v":0.04},{"p":"D","d":"2023-08-05","s":"Ld 1","v":0.045},{"p":"D","d":"2023-08-15","s":"Ld 1","v":0.045},{"p":"D","d":"2023-08-25","s":"Ld 1","v":0.04},{"p":"D","d":"2023-09-05","s":"Ld 1","v":0.045},{"p":"D","d":"2023-09-15","s":"Ld 1","v":0.05},{"p":"D","d":"2023-09-25","s":"Ld 1","v":0.05},{"p":"D","d":"2023-10-05","s":"Ld 1","v":0.05},{"p":"D","d":"2023-10-12","s":"Ld 1","v":0.09},{"p":"D","d":"2023-10-15","s":"Ld 1","v":0.11},{"p":"D","d":"2023-10-18","s":"Ld 1","v":0.12},{"p":"D","d":"2023-10-21","s":"Ld 1","v":0.115},{"p":"D","d":"2023-10-24","s":"Ld 1","v":0.11},{"p":"D","d":"2023-10-27","s":"Ld 1","v":0.1},{"p":"D","d":"2023-10-30","s":"Ld 1","v":0.09},{"p":"D","d":"2023-11-03","s":"Ld 1","v":0.085},{"p":"D","d":"2023-11-07","s":"Ld 1","v":0.08},{"p":"D","d":"2023-11-11","s":"Ld 1","v":0.075},{"p":"D","d":"2023-11-15","s":"Ld 1","v":0.07},{"p":"D","d":"2023-11-19","s":"Ld 1","v":0.065},{"p":"D","d":"2023-11-23","s":"Ld 1","v":0.06},{"p":"D","d":"2023-11-28","s":"Ld 1","v":0.055},{"p":"D","d":"2023-12-03","s":"Ld 1","v":0.05},{"p":"D","d":"2023-12-08","s":"Ld 1","v":0.045},{"p":"D","d":"2023-12-13","s":"Ld 1","v":0.04},{"p":"D","d":"2023-12-18","s":"Ld 1","v":0.04},{"p":"D","d":"2023-12-23","s":"Ld 1","v":0.035},{"p":"D","d":"2023-12-29","s":"Ld 1","v":0.035},{"p":"D","d":"2024-01-04","s":"Ld 1","v":0.03},{"p":"D","d":"2024-01-10","s":"Ld 1","v":0.03},{"p":"D","d":"2024-01-16","s":"Ld 1","v":0.03},{"p":"D","d":"2024-01-22","s":"Ld 1","v":0.03},{"p":"D","d":"2024-01-28","s":"Ld 1","v":0.025},{"p":"D","d":"2024-02-04","s":"Ld 1","v":0.025},{"p":"D","d":"2024-02-11","s":"Ld 1","v":0.025},{"p":"D","d":"2024-02-18","s":"Ld 1","v":0.025},{"p":"D","d":"2024-02-25","s":"Ld 1","v":0.02},{"p":"D","d":"2024-03-04","s":"Ld 1","v":0.02},{"p":"D","d":"2024-03-12","s":"Ld 1","v":0.02},{"p":"D","d":"2024-03-20","s":"Ld 1","v":0.02},{"p":"D","d":"2024-03-28","s":"Ld 1","v":0.02},{"p":"D","d":"2024-04-06","s":"Ld 1","v":0.02},{"p":"D","d":"2024-04-15","s":"Ld 1","v":0.02},{"p":"D","d":"2024-05-22","s":"Ld 1","v":0.015},{"p":"D","d":"2024-06-19","s":"Ld 1","v":0.015},{"p":"D","d":"2024-07-20","s":"Ld 1","v":0.02},
{"p":"D","d":"2021-07-05","s":"Ld 2","v":0.02},{"p":"D","d":"2021-08-04","s":"Ld 2","v":0.02},{"p":"D","d":"2021-09-26","s":"Ld 2","v":0.02},{"p":"D","d":"2021-10-11","s":"Ld 2","v":0.01},{"p":"D","d":"2021-10-29","s":"Ld 2","v":0.055},{"p":"D","d":"2021-11-04","s":"Ld 2","v":0.06},{"p":"D","d":"2021-11-10","s":"Ld 2","v":0.06},{"p":"D","d":"2021-11-16","s":"Ld 2","v":0.055},{"p":"D","d":"2021-11-22","s":"Ld 2","v":0.05},{"p":"D","d":"2021-11-30","s":"Ld 2","v":0.045},{"p":"D","d":"2021-12-08","s":"Ld 2","v":0.04},{"p":"D","d":"2021-12-16","s":"Ld 2","v":0.04},{"p":"D","d":"2021-12-25","s":"Ld 2","v":0.035},{"p":"D","d":"2022-01-04","s":"Ld 2","v":0.035},{"p":"D","d":"2022-01-15","s":"Ld 2","v":0.03},{"p":"D","d":"2022-01-28","s":"Ld 2","v":0.03},{"p":"D","d":"2022-02-12","s":"Ld 2","v":0.03},{"p":"D","d":"2022-03-01","s":"Ld 2","v":0.03},{"p":"D","d":"2022-03-20","s":"Ld 2","v":0.03},{"p":"D","d":"2022-04-15","s":"Ld 2","v":0.03},{"p":"D","d":"2022-05-06","s":"Ld 2","v":0.03},{"p":"D","d":"2022-05-30","s":"Ld 2","v":0.03},{"p":"D","d":"2022-06-25","s":"Ld 2","v":0.03},{"p":"D","d":"2022-07-20","s":"Ld 2","v":0.03},{"p":"D","d":"2022-08-18","s":"Ld 2","v":0.03},{"p":"D","d":"2022-09-14","s":"Ld 2","v":0.03},{"p":"D","d":"2022-10-03","s":"Ld 2","v":0.03},{"p":"D","d":"2022-10-11","s":"Ld 2","v":0.05},{"p":"D","d":"2022-10-19","s":"Ld 2","v":0.07},{"p":"D","d":"2022-10-27","s":"Ld 2","v":0.1},{"p":"D","d":"2022-11-04","s":"Ld 2","v":0.15},{"p":"D","d":"2022-11-12","s":"Ld 2","v":0.19},{"p":"D","d":"2022-11-20","s":"Ld 2","v":0.22},{"p":"D","d":"2022-11-28","s":"Ld 2","v":0.22},{"p":"D","d":"2022-12-06","s":"Ld 2","v":0.19},{"p":"D","d":"2022-12-14","s":"Ld 2","v":0.15},{"p":"D","d":"2022-12-22","s":"Ld 2","v":0.11},{"p":"D","d":"2022-12-30","s":"Ld 2","v":0.09},{"p":"D","d":"2023-01-09","s":"Ld 2","v":0.075},{"p":"D","d":"2023-01-20","s":"Ld 2","v":0.065},{"p":"D","d":"2023-02-01","s":"Ld 2","v":0.06},{"p":"D","d":"2023-02-14","s":"Ld 2","v":0.06},{"p":"D","d":"2023-02-27","s":"Ld 2","v":0.055},{"p":"D","d":"2023-03-12","s":"Ld 2","v":0.055},{"p":"D","d":"2023-03-22","s":"Ld 2","v":0.05},{"p":"D","d":"2023-04-10","s":"Ld 2","v":0.03},{"p":"D","d":"2023-05-01","s":"Ld 2","v":0.03},{"p":"D","d":"2023-05-20","s":"Ld 2","v":0.03},{"p":"D","d":"2023-06-10","s":"Ld 2","v":0.03},{"p":"D","d":"2023-07-01","s":"Ld 2","v":0.03},{"p":"D","d":"2023-07-20","s":"Ld 2","v":0.03},{"p":"D","d":"2023-08-08","s":"Ld 2","v":0.13},{"p":"D","d":"2023-08-30","s":"Ld 2","v":0.03},{"p":"D","d":"2023-09-20","s":"Ld 2","v":0.02},{"p":"D","d":"2023-10-14","s":"Ld 2","v":0.1},{"p":"D","d":"2023-10-20","s":"Ld 2","v":0.11},{"p":"D","d":"2023-10-26","s":"Ld 2","v":0.1},{"p":"D","d":"2023-11-01","s":"Ld 2","v":0.09},{"p":"D","d":"2023-11-08","s":"Ld 2","v":0.08},{"p":"D","d":"2023-11-15","s":"Ld 2","v":0.07},{"p":"D","d":"2023-11-22","s":"Ld 2","v":0.06},{"p":"D","d":"2023-11-30","s":"Ld 2","v":0.05},{"p":"D","d":"2023-12-10","s":"Ld 2","v":0.04},{"p":"D","d":"2023-12-20","s":"Ld 2","v":0.035},{"p":"D","d":"2024-01-01","s":"Ld 2","v":0.03},{"p":"D","d":"2024-01-13","s":"Ld 2","v":0.03},{"p":"D","d":"2024-01-25","s":"Ld 2","v":0.025},{"p":"D","d":"2024-02-07","s":"Ld 2","v":0.025},{"p":"D","d":"2024-02-20","s":"Ld 2","v":0.02},{"p":"D","d":"2024-03-05","s":"Ld 2","v":0.02},{"p":"D","d":"2024-03-20","s":"Ld 2","v":0.02},{"p":"D","d":"2024-04-10","s":"Ld 2","v":0.015},{"p":"D","d":"2024-06-19","s":"Ld 2","v":0.06}
]
},
"vconcat": [
{
 "width": 1060, "height": 144,
 "layer": [
  {"data": {"name": "green"}, "mark": {"type": "rect", "color": "#9acd32", "opacity": 0.27, "clip": true},
   "encoding": {"x": {"field": "d1", "type": "temporal", "scale": {"domain": [{"year":2021,"month":5,"date":25},{"year":2024,"month":8,"date":4}], "nice": false},
     "axis": {"values": [{"year":2021,"month":7,"date":1},{"year":2021,"month":9,"date":1},{"year":2021,"month":11,"date":1},{"year":2022,"month":1,"date":1},{"year":2022,"month":3,"date":1},{"year":2022,"month":5,"date":1},{"year":2022,"month":7,"date":1},{"year":2022,"month":9,"date":1},{"year":2022,"month":11,"date":1},{"year":2023,"month":1,"date":1},{"year":2023,"month":3,"date":1},{"year":2023,"month":5,"date":1},{"year":2023,"month":7,"date":1},{"year":2023,"month":9,"date":1},{"year":2023,"month":11,"date":1},{"year":2024,"month":1,"date":1},{"year":2024,"month":3,"date":1},{"year":2024,"month":5,"date":1},{"year":2024,"month":7,"date":1}], "labels": false, "title": null}},
     "x2": {"field": "d2"}}},
  {"data": {"name": "ev"}, "mark": {"type": "rule", "color": "#2389ea", "strokeWidth": 1.6, "strokeDash": [7, 5]},
   "encoding": {"x": {"field": "d", "type": "temporal"}}},
  {"data": {"name": "irr"}, "mark": {"type": "line", "color": "#000000", "opacity": 0.7, "strokeWidth": 3},
   "encoding": {"x": {"field": "d", "type": "temporal"}, "y": {"field": "v", "type": "quantitative", "scale": {"domain": [-0.021, 0.441], "nice": false, "zero": false}, "axis": {"values": [0, 0.1, 0.2, 0.3, 0.4], "format": ".1f", "title": null}}, "detail": {"field": "b"}}},
  {"data": {"name": "irr"}, "mark": {"type": "point", "filled": true, "shape": "circle", "size": 470, "stroke": "#1a1a1a", "strokeWidth": 2, "fillOpacity": 0.85, "strokeOpacity": 0.85, "clip": true},
   "encoding": {"x": {"field": "d", "type": "temporal"}, "y": {"field": "v", "type": "quantitative"},
     "fill": {"field": "b", "type": "nominal", "scale": {"domain": ["B0","B1","B2","B3","B4","B5","B6","B7"], "range": ["#999999","#E69F00","#56B4E9","#009E73","#F0E442","#0072B2","#D55E00","#CC79A7"]}, "legend": null}}},
  {"data": {"values": [{}]}, "mark": {"type": "text", "text": "Irrigation", "fontSize": 34, "align": "center", "baseline": "alphabetic", "color": "#000000"},
   "encoding": {"x": {"datum": {"year": 2024, "month": 4, "date": 1}, "type": "temporal"}, "y": {"datum": 0.361, "type": "quantitative"}}}
 ]
},
{
 "width": 1060, "height": 144,
 "layer": [
  {"data": {"name": "obs"}, "transform": [{"filter": "datum.p == '10'"}],
   "mark": {"type": "point", "filled": true, "stroke": "#1a1a1a", "strokeWidth": 1.8, "fillOpacity": 0.8, "strokeOpacity": 0.8, "clip": true},
   "encoding": {
    "x": {"field": "d", "type": "temporal", "axis": {"values": [{"year":2021,"month":7,"date":1},{"year":2021,"month":9,"date":1},{"year":2021,"month":11,"date":1},{"year":2022,"month":1,"date":1},{"year":2022,"month":3,"date":1},{"year":2022,"month":5,"date":1},{"year":2022,"month":7,"date":1},{"year":2022,"month":9,"date":1},{"year":2022,"month":11,"date":1},{"year":2023,"month":1,"date":1},{"year":2023,"month":3,"date":1},{"year":2023,"month":5,"date":1},{"year":2023,"month":7,"date":1},{"year":2023,"month":9,"date":1},{"year":2023,"month":11,"date":1},{"year":2024,"month":1,"date":1},{"year":2024,"month":3,"date":1},{"year":2024,"month":5,"date":1},{"year":2024,"month":7,"date":1}], "labels": false, "title": null}},
    "y": {"field": "v", "type": "quantitative", "axis": {"values": [0, 0.1, 0.2, 0.3, 0.4], "format": ".1f", "title": null}},
    "color": {"field": "s", "type": "nominal", "scale": {"domain": ["Lu 1","Lu 2","Ld 1","Ld 2","RW irrigation"], "range": ["#E69F00","#E69F00","#56B4E9","#56B4E9","rgba(255,255,255,0)"]},
      "legend": {"title": null, "orient": "none", "legendX": 118, "legendY": 976, "direction": "horizontal", "labelFontSize": 30, "labelLimit": 400, "labelColor": "#000000", "symbolSize": 529, "labelOffset": 31, "columnPadding": 33, "padding": 0, "symbolStrokeColor": "#444444", "symbolStrokeWidth": 1.8,
        "encode": {"symbols": {"update": {"fillOpacity": {"signal": "datum.value === 'RW irrigation' ? 0 : 0.8"}, "stroke": {"signal": "datum.value === 'RW irrigation' ? '#808080' : '#3a3a3a'"}, "strokeWidth": {"value": 1.8}, "size": {"signal": "datum.value === 'Lu 1' ? 256 : datum.value === 'Lu 2' ? 324 : datum.value === 'RW irrigation' ? 289 : 529"}}}}}},
    "shape": {"field": "s", "type": "nominal", "scale": {"domain": ["Lu 1","Lu 2","Ld 1","Ld 2","RW irrigation"], "range": ["square","diamond","triangle-up","triangle-down","circle"]},
      "legend": {"title": null, "orient": "none", "legendX": 118, "legendY": 976, "direction": "horizontal", "labelFontSize": 30, "labelLimit": 400, "labelColor": "#000000", "symbolSize": 529, "labelOffset": 31, "columnPadding": 33, "padding": 0, "symbolStrokeColor": "#444444", "symbolStrokeWidth": 1.8,
        "encode": {"symbols": {"update": {"fillOpacity": {"signal": "datum.value === 'RW irrigation' ? 0 : 0.8"}, "stroke": {"signal": "datum.value === 'RW irrigation' ? '#808080' : '#3a3a3a'"}, "strokeWidth": {"value": 1.8}, "size": {"signal": "datum.value === 'Lu 1' ? 256 : datum.value === 'Lu 2' ? 324 : datum.value === 'RW irrigation' ? 289 : 529"}}}}}},
    "size": {"field": "s", "type": "nominal", "scale": {"domain": ["Lu 1","Lu 2","Ld 1","Ld 2","RW irrigation"], "range": [346, 700, 730, 730, 470]}, "legend": null}
   }},
  {"data": {"name": "arr"}, "transform": [{"filter": "datum.p == '10'"}],
   "mark": {"type": "rule", "color": "#ff7b7b", "strokeWidth": 4, "strokeDash": [22, 14], "opacity": 0.9},
   "encoding": {"x": {"field": "d1", "type": "temporal"}, "x2": {"field": "d2"}, "y": {"field": "v1", "type": "quantitative"}, "y2": {"field": "v2"}}},
  {"data": {"values": [{}]}, "mark": {"type": "text", "text": "z = 10 cm", "fontSize": 34, "align": "center", "baseline": "alphabetic", "color": "#000000"},
   "encoding": {"x": {"datum": {"year": 2024, "month": 4, "date": 1}, "type": "temporal"}, "y": {"datum": 0.361, "type": "quantitative"}}}
 ]
},
{
 "width": 1060, "height": 144,
 "layer": [
  {"data": {"name": "obs"}, "transform": [{"filter": "datum.p == '40'"}],
   "mark": {"type": "point", "filled": true, "stroke": "#1a1a1a", "strokeWidth": 1.8, "fillOpacity": 0.8, "strokeOpacity": 0.8, "clip": true},
   "encoding": {
    "x": {"field": "d", "type": "temporal", "axis": {"values": [{"year":2021,"month":7,"date":1},{"year":2021,"month":9,"date":1},{"year":2021,"month":11,"date":1},{"year":2022,"month":1,"date":1},{"year":2022,"month":3,"date":1},{"year":2022,"month":5,"date":1},{"year":2022,"month":7,"date":1},{"year":2022,"month":9,"date":1},{"year":2022,"month":11,"date":1},{"year":2023,"month":1,"date":1},{"year":2023,"month":3,"date":1},{"year":2023,"month":5,"date":1},{"year":2023,"month":7,"date":1},{"year":2023,"month":9,"date":1},{"year":2023,"month":11,"date":1},{"year":2024,"month":1,"date":1},{"year":2024,"month":3,"date":1},{"year":2024,"month":5,"date":1},{"year":2024,"month":7,"date":1}], "labels": false, "title": null}},
    "y": {"field": "v", "type": "quantitative", "axis": {"values": [0, 0.1, 0.2, 0.3, 0.4], "format": ".1f", "title": "concentration (µg L⁻¹)", "titleFontSize": 40, "titlePadding": 16}},
    "color": {"field": "s", "type": "nominal"},
    "shape": {"field": "s", "type": "nominal"},
    "size": {"field": "s", "type": "nominal", "legend": null}
   }},
  {"data": {"name": "arr"}, "transform": [{"filter": "datum.p == '40'"}],
   "mark": {"type": "rule", "color": "#ff7b7b", "strokeWidth": 4, "strokeDash": [22, 14], "opacity": 0.9},
   "encoding": {"x": {"field": "d1", "type": "temporal"}, "x2": {"field": "d2"}, "y": {"field": "v1", "type": "quantitative"}, "y2": {"field": "v2"}}},
  {"data": {"values": [{}]}, "mark": {"type": "text", "text": "z = 40 cm", "fontSize": 34, "align": "center", "baseline": "alphabetic", "color": "#000000"},
   "encoding": {"x": {"datum": {"year": 2024, "month": 4, "date": 1}, "type": "temporal"}, "y": {"datum": 0.361, "type": "quantitative"}}}
 ]
},
{
 "width": 1060, "height": 144,
 "layer": [
  {"data": {"name": "obs"}, "transform": [{"filter": "datum.p == '70'"}],
   "mark": {"type": "point", "filled": true, "stroke": "#1a1a1a", "strokeWidth": 1.8, "fillOpacity": 0.8, "strokeOpacity": 0.8, "clip": true},
   "encoding": {
    "x": {"field": "d", "type": "temporal", "axis": {"values": [{"year":2021,"month":7,"date":1},{"year":2021,"month":9,"date":1},{"year":2021,"month":11,"date":1},{"year":2022,"month":1,"date":1},{"year":2022,"month":3,"date":1},{"year":2022,"month":5,"date":1},{"year":2022,"month":7,"date":1},{"year":2022,"month":9,"date":1},{"year":2022,"month":11,"date":1},{"year":2023,"month":1,"date":1},{"year":2023,"month":3,"date":1},{"year":2023,"month":5,"date":1},{"year":2023,"month":7,"date":1},{"year":2023,"month":9,"date":1},{"year":2023,"month":11,"date":1},{"year":2024,"month":1,"date":1},{"year":2024,"month":3,"date":1},{"year":2024,"month":5,"date":1},{"year":2024,"month":7,"date":1}], "labels": false, "title": null}},
    "y": {"field": "v", "type": "quantitative", "axis": {"values": [0, 0.1, 0.2, 0.3, 0.4], "format": ".1f", "title": null}},
    "color": {"field": "s", "type": "nominal"},
    "shape": {"field": "s", "type": "nominal"},
    "size": {"field": "s", "type": "nominal", "legend": null}
   }},
  {"data": {"name": "arr"}, "transform": [{"filter": "datum.p == '70'"}],
   "mark": {"type": "rule", "color": "#ff7b7b", "strokeWidth": 4, "strokeDash": [22, 14], "opacity": 0.9},
   "encoding": {"x": {"field": "d1", "type": "temporal"}, "x2": {"field": "d2"}, "y": {"field": "v1", "type": "quantitative"}, "y2": {"field": "v2"}}},
  {"data": {"values": [{}]}, "mark": {"type": "text", "text": "z = 70 cm", "fontSize": 34, "align": "center", "baseline": "alphabetic", "color": "#000000"},
   "encoding": {"x": {"datum": {"year": 2024, "month": 4, "date": 1}, "type": "temporal"}, "y": {"datum": 0.361, "type": "quantitative"}}}
 ]
},
{
 "width": 1060, "height": 144,
 "layer": [
  {"data": {"name": "obs"}, "transform": [{"filter": "datum.p == 'D'"}],
   "mark": {"type": "point", "filled": true, "stroke": "#1a1a1a", "strokeWidth": 1.8, "fillOpacity": 0.8, "strokeOpacity": 0.8, "clip": true},
   "encoding": {
    "x": {"field": "d", "type": "temporal", "axis": {"values": [{"year":2021,"month":7,"date":1},{"year":2021,"month":9,"date":1},{"year":2021,"month":11,"date":1},{"year":2022,"month":1,"date":1},{"year":2022,"month":3,"date":1},{"year":2022,"month":5,"date":1},{"year":2022,"month":7,"date":1},{"year":2022,"month":9,"date":1},{"year":2022,"month":11,"date":1},{"year":2023,"month":1,"date":1},{"year":2023,"month":3,"date":1},{"year":2023,"month":5,"date":1},{"year":2023,"month":7,"date":1},{"year":2023,"month":9,"date":1},{"year":2023,"month":11,"date":1},{"year":2024,"month":1,"date":1},{"year":2024,"month":3,"date":1},{"year":2024,"month":5,"date":1},{"year":2024,"month":7,"date":1}], "format": "%b %y", "labelFontSize": 28, "labelAngle": -55, "labelAlign": "right", "labelBaseline": "middle", "labelPadding": 8, "labelOffset": 19, "title": null}},
    "y": {"field": "v", "type": "quantitative", "axis": {"values": [0, 0.1, 0.2, 0.3, 0.4], "format": ".1f", "title": null}},
    "color": {"field": "s", "type": "nominal"},
    "shape": {"field": "s", "type": "nominal"},
    "size": {"field": "s", "type": "nominal", "legend": null}
   }},
  {"data": {"name": "arr"}, "transform": [{"filter": "datum.p == 'D'"}],
   "mark": {"type": "rule", "color": "#ff7b7b", "strokeWidth": 4, "strokeDash": [22, 14], "opacity": 0.9},
   "encoding": {"x": {"field": "d1", "type": "temporal"}, "x2": {"field": "d2"}, "y": {"field": "v1", "type": "quantitative"}, "y2": {"field": "v2"}}},
  {"data": {"name": "hd"}, "mark": {"type": "point", "shape": "M-1,-0.68L1,-0.68L0,0.68Z", "size": 784, "filled": true, "color": "#ff7b7b", "opacity": 0.9, "strokeWidth": 0},
   "encoding": {"x": {"field": "d", "type": "temporal"}, "y": {"field": "v", "type": "quantitative"}, "angle": {"field": "a", "type": "quantitative", "scale": null}}},
  {"data": {"values": [{}]}, "mark": {"type": "text", "text": "Drainage", "fontSize": 34, "align": "center", "baseline": "alphabetic", "color": "#000000"},
   "encoding": {"x": {"datum": {"year": 2024, "month": 4, "date": 1}, "type": "temporal"}, "y": {"datum": 0.361, "type": "quantitative"}}}
 ]
}
]
}
